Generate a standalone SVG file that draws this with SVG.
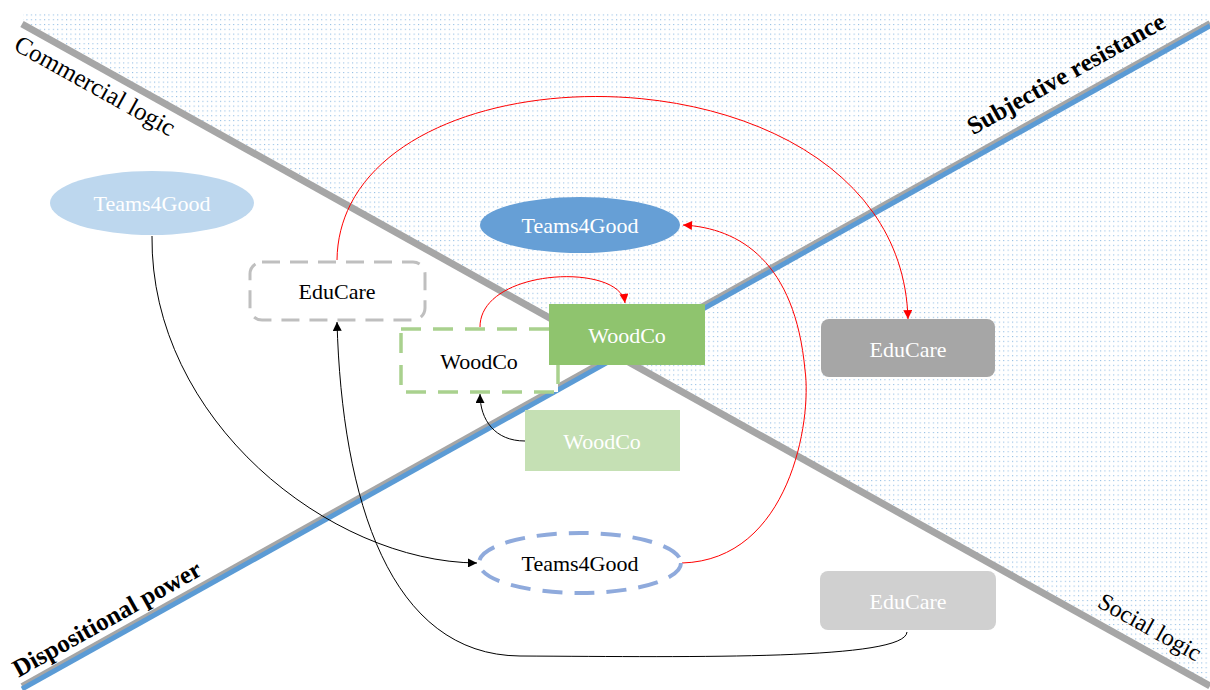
<svg xmlns="http://www.w3.org/2000/svg" width="1210" height="690" viewBox="0 0 1210 690">
<defs>
<pattern id="dots" patternUnits="userSpaceOnUse" width="4.4" height="4.8">
<rect x="0" y="0" width="1.1" height="1.1" fill="#6fa6da" fill-opacity="0.75"/>
</pattern>
<marker id="ab" viewBox="0 0 10 10" refX="10" refY="5" markerWidth="10" markerHeight="9" markerUnits="userSpaceOnUse" orient="auto"><path d="M0,0 L10,5 L0,10 z" fill="#000"/></marker>
<marker id="ar" viewBox="0 0 10 10" refX="10" refY="5" markerWidth="10" markerHeight="9" markerUnits="userSpaceOnUse" orient="auto"><path d="M0,0 L10,5 L0,10 z" fill="#ff0000"/></marker>
<style>
.lbl{font-family:"Liberation Serif","Times New Roman",serif;font-size:22px;text-anchor:middle;dominant-baseline:central}
.w{fill:#ffffff}
.k{fill:#000000}
.axis{font-family:"Liberation Serif","Times New Roman",serif;font-size:25px;text-anchor:middle;fill:#000}
.bold{font-weight:bold}
.cb{fill:none;stroke:#000;stroke-width:1;marker-end:url(#ab)}
.cr{fill:none;stroke:#ff0000;stroke-width:1;marker-end:url(#ar)}
</style>
</defs>
<rect width="1210" height="690" fill="#ffffff"/>
<polygon points="23,13 1210,13 1210,686 23,24" fill="url(#dots)"/>
<g id="axes">
<line x1="22" y1="24" x2="1210" y2="686" stroke="#a6a6a6" stroke-width="7"/>
<line x1="22" y1="686" x2="1210" y2="23" stroke="#a6a6a6" stroke-width="6"/>
<line x1="22" y1="689" x2="1210" y2="26" stroke="#5b9bd5" stroke-width="5"/>
</g>
<g id="axis-labels">
<text class="axis" transform="translate(91,93) rotate(29.1)">Commercial logic</text>
<text class="axis" transform="translate(1146,634) rotate(29.1)" style="font-size:24px">Social logic</text>
<text class="axis bold" transform="translate(1070,81) rotate(-29.2)">Subjective resistance</text>
<text class="axis bold" transform="translate(111,626) rotate(-29.2)">Dispositional power</text>
</g>
<g id="connectors">
<path class="cb" d="M152,236 C150,420 330,562 477,563"/>
<path class="cb" d="M907,632 C905,660 700,657 520,656 C390,655 342,500 337,322"/>
<path class="cb" d="M525,441 C495,441 480,420 480,394"/>
<path class="cr" d="M337,260 C340,33 900,33 908,319"/>
<path class="cr" d="M480,327 C480,268 620,262 625,303"/>
<path class="cr" d="M682,563 C790,560 812,420 805,370 C795,262 740,228 683,225"/>
</g>
<g id="n-teams-light">
<ellipse cx="152" cy="203" rx="102" ry="32" fill="#bdd7ee"/>
<text class="lbl w" x="152" y="203">Teams4Good</text>
</g>
<g id="n-teams-solid">
<ellipse cx="580" cy="225" rx="100" ry="28" fill="#669fd6"/>
<text class="lbl w" x="580" y="225">Teams4Good</text>
</g>
<g id="n-educare-dashed">
<rect x="250" y="262" width="175" height="58" rx="12" fill="#ffffff" stroke="#bfbfbf" stroke-width="3" stroke-dasharray="18,10"/>
<text class="lbl k" x="337" y="291">EduCare</text>
</g>
<g id="n-woodco-dashed">
<rect x="401" y="329" width="157" height="63" fill="#ffffff" stroke="#a9d18e" stroke-width="3.5" stroke-dasharray="20,12"/>
<text class="lbl k" x="479" y="361">WoodCo</text>
</g>
<g id="n-woodco-solid">
<rect x="549" y="304" width="156" height="61" fill="#8fc46e"/>
<text class="lbl w" x="627" y="335">WoodCo</text>
</g>
<g id="n-woodco-light">
<rect x="525" y="410" width="155" height="61" fill="#c5e0b4"/>
<text class="lbl w" x="602" y="441">WoodCo</text>
</g>
<g id="n-educare-gray">
<rect x="821" y="319" width="174" height="58" rx="8" fill="#a6a6a6"/>
<text class="lbl w" x="908" y="349">EduCare</text>
</g>
<g id="n-educare-light">
<rect x="820" y="571" width="176" height="59" rx="8" fill="#d0d0d0"/>
<text class="lbl w" x="908" y="601">EduCare</text>
</g>
<g id="n-teams-dashed">
<ellipse cx="580" cy="563" rx="101" ry="30" fill="#ffffff" stroke="#8faadc" stroke-width="4" stroke-dasharray="20,12"/>
<text class="lbl k" x="580" y="563">Teams4Good</text>
</g>
</svg>
